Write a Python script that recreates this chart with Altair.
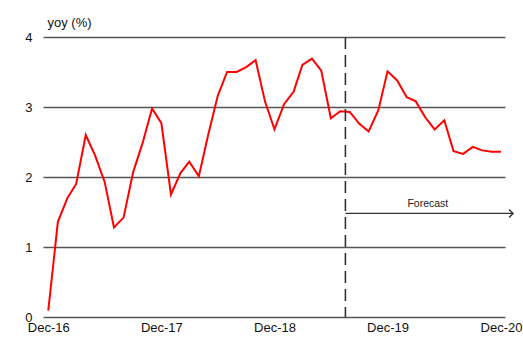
import altair as alt
import pandas as pd

# ---- data ----
months = pd.date_range("2016-12-01", "2020-12-01", freq="MS").strftime("%Y-%m-%d").tolist()
yoy = [0.09, 1.36, 1.70, 1.90, 2.60, 2.31, 1.93, 1.28, 1.42, 2.07, 2.48, 2.98,
       2.77, 1.75, 2.06, 2.22, 2.01, 2.60, 3.16, 3.50, 3.50, 3.57, 3.67, 3.07,
       2.68, 3.04, 3.22, 3.60, 3.69, 3.52, 2.84, 2.94, 2.93, 2.76, 2.65, 2.95,
       3.51, 3.38, 3.14, 3.08, 2.85, 2.68, 2.81, 2.37, 2.33, 2.43, 2.38, 2.36,
       2.36]
tick_dates = ["2016-12-01", "2017-12-01", "2018-12-01", "2019-12-01", "2020-12-01"]
y_ticks = [0, 1, 2, 3, 4]
forecast_start = "2019-07-18"
arrow_end = "2021-01-09"
arrow_level = 1.48
label_date = "2020-04-09"
label_level = 1.62
label_text = "Forecast"

FONT = "Liberation Sans"

df = pd.DataFrame({"date": months, "yoy": yoy})
x_scale = alt.Scale(domain=["2016-11-14", "2020-12-14"])
y_scale = alt.Scale(domain=[0, 4])

line = alt.Chart(df).mark_line(color="#ff0000", strokeWidth=2).encode(
    x=alt.X("date:T", scale=x_scale,
            axis=alt.Axis(values=tick_dates, format="%b-%y", title=None, grid=False,
                          domain=False, ticks=False, labelPadding=4, labelFontSize=13,
                          labelFont=FONT, labelColor="#111", labelFlush=False)),
    y=alt.Y("yoy:Q", scale=y_scale,
            axis=alt.Axis(values=y_ticks, format="d", title="yoy (%)", titleAngle=0,
                          titleAlign="left", titleBaseline="middle", titleX=4, titleY=-15,
                          titleFont=FONT, titleFontSize=13, titleFontWeight="normal",
                          titleColor="#111", domain=False, ticks=False, labelPadding=11,
                          labelFontSize=13, labelFont=FONT, labelColor="#111",
                          grid=True, gridColor="#555555", gridWidth=1.3)),
)

vline_df = pd.DataFrame({"date": [forecast_start]})
vline = alt.Chart(vline_df).mark_rule(color="#333333", strokeWidth=1.6,
                                       strokeDash=[12, 6]).encode(
    x=alt.X("date:T", scale=x_scale),
)

arrow_df = pd.DataFrame({"start": [forecast_start], "end": [arrow_end], "y": [arrow_level]})
arrow = alt.Chart(arrow_df).mark_rule(color="#333333", strokeWidth=1.4).encode(
    x=alt.X("start:T", scale=x_scale),
    x2="end:T",
    y=alt.Y("y:Q", scale=y_scale),
)
head = alt.Chart(arrow_df).mark_point(shape="M -1 -1 L 0 0 L -1 1", filled=False,
                                      color="#333333", strokeWidth=1.4, size=64,
                                      opacity=1).encode(
    x=alt.X("end:T", scale=x_scale),
    y=alt.Y("y:Q", scale=y_scale),
)

label_df = pd.DataFrame({"date": [label_date], "y": [label_level], "t": [label_text]})
label = alt.Chart(label_df).mark_text(font=FONT, fontSize=10.5, color="#222222",
                                      baseline="middle", align="center").encode(
    x=alt.X("date:T", scale=x_scale),
    y=alt.Y("y:Q", scale=y_scale),
    text="t:N",
)

chart = alt.layer(line, vline, arrow, head, label).properties(
    width=462, height=280,
    autosize=alt.AutoSizeParams(type="none"),
    padding={"left": 43, "top": 37, "right": 18, "bottom": 21},
    background="white",
).configure_view(stroke=None)

chart.save("out.html", embed_options={"renderer": "svg", "actions": False})
